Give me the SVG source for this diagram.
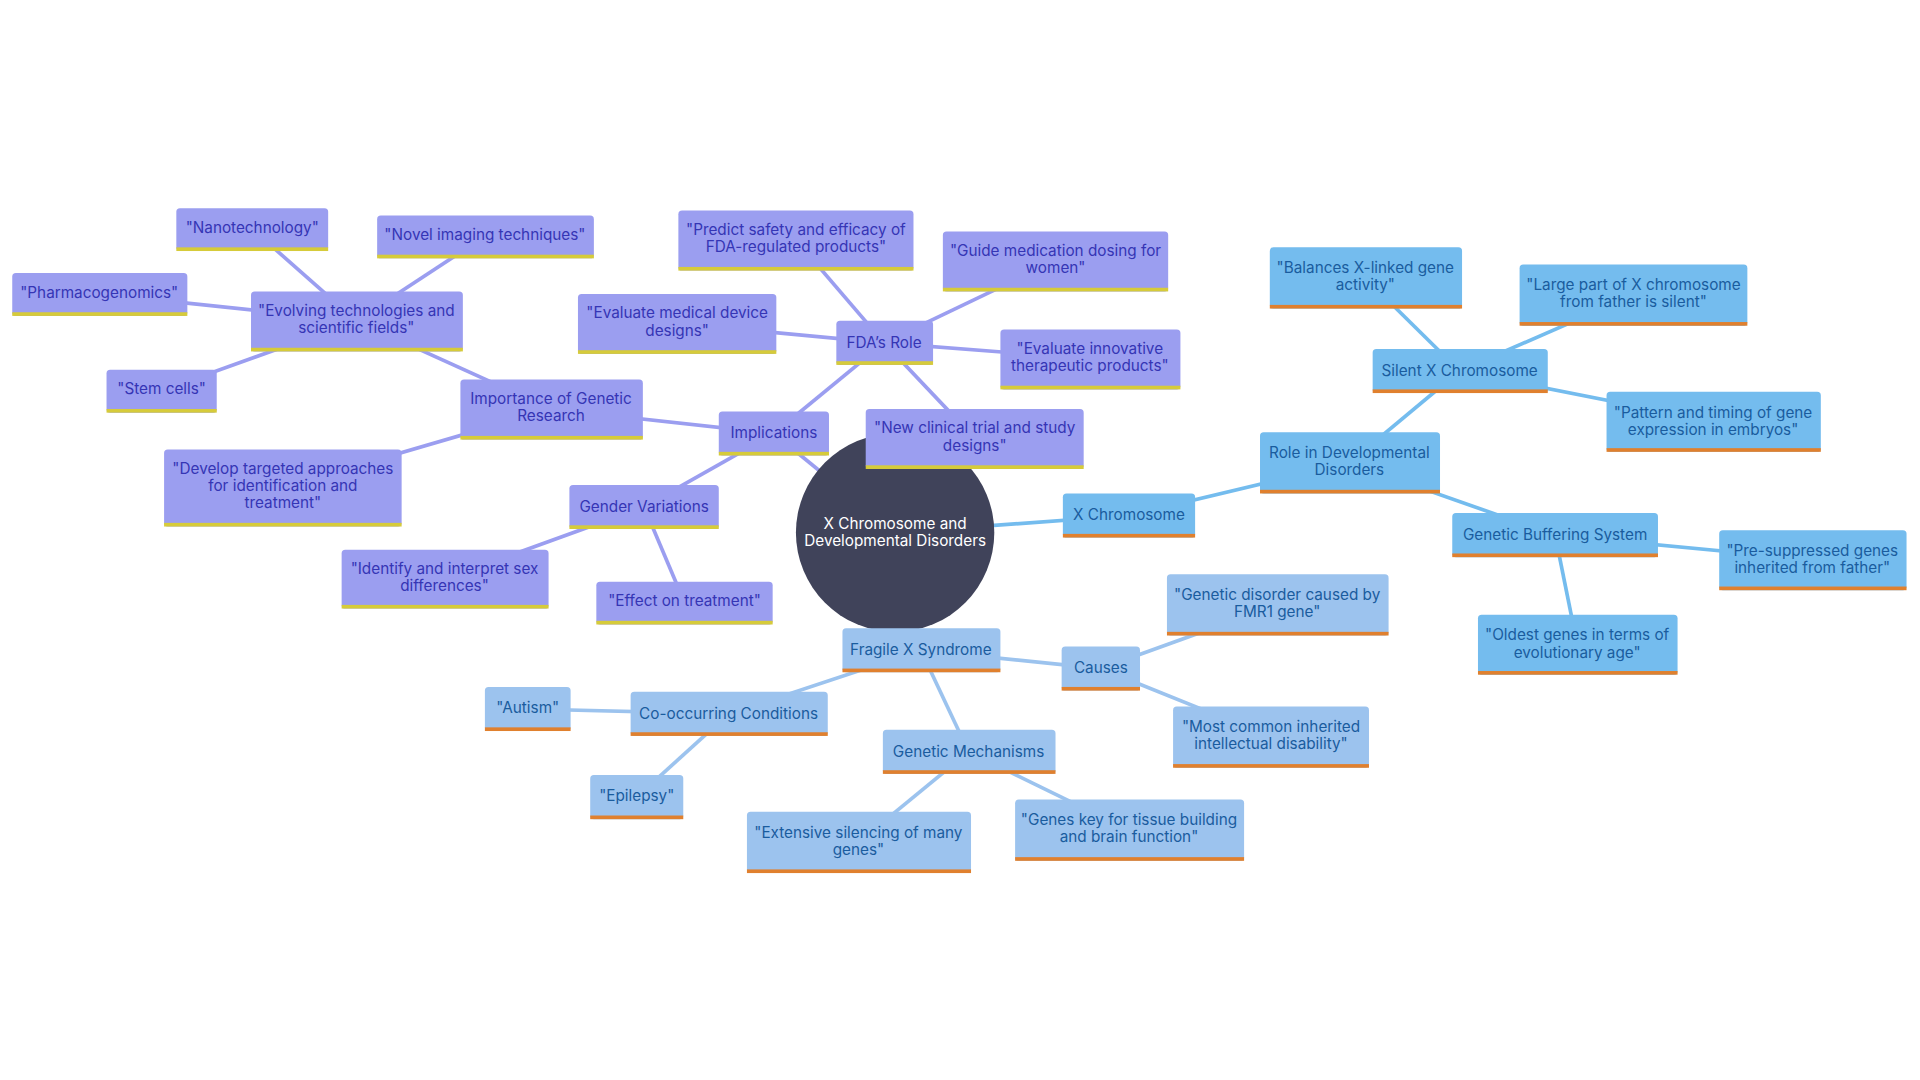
<svg xmlns="http://www.w3.org/2000/svg" width="1920" height="1080" viewBox="0 0 1920 1080">
<style>
text{font-family:Inter,"Noto Sans","Liberation Sans",sans-serif;font-size:12.5px;text-anchor:middle}
.p rect.b{fill:#9B9EF0}.p rect.u{fill:#D6CB3A}.p text{fill:#3535B5}
.r rect.b{fill:#74BCEE}.r rect.u{fill:#E0802E}.r text{fill:#1A5C9E}
.f rect.b{fill:#9CC3EE}.f rect.u{fill:#E0802E}.f text{fill:#1A5C9E}
.ep line{stroke:#9B9EF0;stroke-width:3}
.er line{stroke:#74BCEE;stroke-width:3}
.ef line{stroke:#9CC3EE;stroke-width:3}
</style>
<rect width="1920" height="1080" fill="#fff"/>
<g transform="scale(1.2245)">
<g id="connectors">
<g class="ep">
<line x1="731" y1="435" x2="632" y2="354"/>
<line x1="632" y1="354" x2="722" y2="280"/>
<line x1="722" y1="280" x2="650" y2="196"/>
<line x1="722" y1="280" x2="862" y2="213"/>
<line x1="722" y1="280" x2="553" y2="264"/>
<line x1="722" y1="280" x2="890" y2="293"/>
<line x1="722" y1="280" x2="796" y2="358"/>
<line x1="632" y1="354" x2="450" y2="334"/>
<line x1="450" y1="334" x2="291" y2="262"/>
<line x1="291" y1="262" x2="206" y2="187"/>
<line x1="291" y1="262" x2="396" y2="193"/>
<line x1="291" y1="262" x2="81" y2="240"/>
<line x1="291" y1="262" x2="132" y2="319"/>
<line x1="450" y1="334" x2="231" y2="398"/>
<line x1="632" y1="354" x2="526" y2="414"/>
<line x1="526" y1="414" x2="363" y2="473"/>
<line x1="526" y1="414" x2="559" y2="492"/>
</g>
<g class="er">
<line x1="731" y1="435" x2="922" y2="421"/>
<line x1="922" y1="421" x2="1102" y2="378"/>
<line x1="1102" y1="378" x2="1192" y2="303"/>
<line x1="1192" y1="303" x2="1115" y2="227"/>
<line x1="1192" y1="303" x2="1334" y2="241"/>
<line x1="1192" y1="303" x2="1399" y2="344"/>
<line x1="1102" y1="378" x2="1270" y2="437"/>
<line x1="1270" y1="437" x2="1480" y2="457"/>
<line x1="1270" y1="437" x2="1288" y2="526"/>
</g>
<g class="ef">
<line x1="731" y1="435" x2="752" y2="531"/>
<line x1="752" y1="531" x2="899" y2="546"/>
<line x1="899" y1="546" x2="1043" y2="494"/>
<line x1="899" y1="546" x2="1038" y2="602"/>
<line x1="752" y1="531" x2="595" y2="583"/>
<line x1="595" y1="583" x2="431" y2="579"/>
<line x1="595" y1="583" x2="520" y2="651"/>
<line x1="752" y1="531" x2="791" y2="614"/>
<line x1="791" y1="614" x2="701" y2="688"/>
<line x1="791" y1="614" x2="922" y2="678"/>
</g>
</g>
<g id="center"><circle cx="731" cy="435" r="81" fill="#40435A"/><text x="731" y="432" fill="#fff">X Chromosome and</text><text x="731" y="446" fill="#fff">Developmental Disorders</text></g>

<g id="implications" class="p"><rect class="b" x="587" y="336" width="90" height="36" rx="3"/><rect class="u" x="587" y="369" width="90" height="3"/><text x="632" y="358">Implications</text></g>
<g id="fda" class="p"><rect class="b" x="683" y="262" width="79" height="36" rx="3"/><rect class="u" x="683" y="295" width="79" height="3"/><text x="722" y="284">FDA’s Role</text></g>
<g id="predict" class="p"><rect class="b" x="554" y="172" width="192" height="49" rx="3"/><rect class="u" x="554" y="218" width="192" height="3"/><text x="650" y="192">"Predict safety and efficacy of</text><text x="650" y="206">FDA-regulated products"</text></g>
<g id="guide" class="p"><rect class="b" x="770" y="189" width="184" height="49" rx="3"/><rect class="u" x="770" y="235" width="184" height="3"/><text x="862" y="209">"Guide medication dosing for</text><text x="862" y="223">women"</text></g>
<g id="evaldev" class="p"><rect class="b" x="472" y="240" width="162" height="49" rx="3"/><rect class="u" x="472" y="286" width="162" height="3"/><text x="553" y="260">"Evaluate medical device</text><text x="553" y="274">designs"</text></g>
<g id="evalinn" class="p"><rect class="b" x="817" y="269" width="147" height="49" rx="3"/><rect class="u" x="817" y="315" width="147" height="3"/><text x="890" y="289">"Evaluate innovative</text><text x="890" y="303">therapeutic products"</text></g>
<g id="newtrial" class="p"><rect class="b" x="707" y="334" width="178" height="49" rx="3"/><rect class="u" x="707" y="380" width="178" height="3"/><text x="796" y="354">"New clinical trial and study</text><text x="796" y="368">designs"</text></g>
<g id="importance" class="p"><rect class="b" x="376" y="310" width="149" height="49" rx="3"/><rect class="u" x="376" y="356" width="149" height="3"/><text x="450" y="330">Importance of Genetic</text><text x="450" y="344">Research</text></g>
<g id="evolving" class="p"><rect class="b" x="205" y="238" width="173" height="49" rx="3"/><rect class="u" x="205" y="284" width="173" height="3"/><text x="291" y="258">"Evolving technologies and</text><text x="291" y="272">scientific fields"</text></g>
<g id="nano" class="p"><rect class="b" x="144" y="170" width="124" height="35" rx="3"/><rect class="u" x="144" y="202" width="124" height="3"/><text x="206" y="190">"Nanotechnology"</text></g>
<g id="imaging" class="p"><rect class="b" x="308" y="176" width="177" height="35" rx="3"/><rect class="u" x="308" y="208" width="177" height="3"/><text x="396" y="196">"Novel imaging techniques"</text></g>
<g id="pharma" class="p"><rect class="b" x="10" y="223" width="143" height="35" rx="3"/><rect class="u" x="10" y="255" width="143" height="3"/><text x="81" y="243">"Pharmacogenomics"</text></g>
<g id="stem" class="p"><rect class="b" x="87" y="302" width="90" height="35" rx="3"/><rect class="u" x="87" y="334" width="90" height="3"/><text x="132" y="322">"Stem cells"</text></g>
<g id="develop" class="p"><rect class="b" x="134" y="367" width="194" height="63" rx="3"/><rect class="u" x="134" y="427" width="194" height="3"/><text x="231" y="387">"Develop targeted approaches</text><text x="231" y="401">for identification and</text><text x="231" y="415">treatment"</text></g>
<g id="gender" class="p"><rect class="b" x="465" y="396" width="122" height="36" rx="3"/><rect class="u" x="465" y="429" width="122" height="3"/><text x="526" y="418">Gender Variations</text></g>
<g id="identify" class="p"><rect class="b" x="279" y="449" width="169" height="48" rx="3"/><rect class="u" x="279" y="494" width="169" height="3"/><text x="363" y="469">"Identify and interpret sex</text><text x="363" y="483">differences"</text></g>
<g id="effect" class="p"><rect class="b" x="487" y="475" width="144" height="35" rx="3"/><rect class="u" x="487" y="507" width="144" height="3"/><text x="559" y="495">"Effect on treatment"</text></g>

<g id="xchrom" class="r"><rect class="b" x="868" y="403" width="108" height="36" rx="3"/><rect class="u" x="868" y="436" width="108" height="3"/><text x="922" y="425">X Chromosome</text></g>
<g id="role" class="r"><rect class="b" x="1029" y="353" width="147" height="50" rx="3"/><rect class="u" x="1029" y="400" width="147" height="3"/><text x="1102" y="374">Role in Developmental</text><text x="1102" y="388">Disorders</text></g>
<g id="silent" class="r"><rect class="b" x="1121" y="285" width="143" height="36" rx="3"/><rect class="u" x="1121" y="318" width="143" height="3"/><text x="1192" y="307">Silent X Chromosome</text></g>
<g id="balances" class="r"><rect class="b" x="1037" y="202" width="157" height="50" rx="3"/><rect class="u" x="1037" y="249" width="157" height="3"/><text x="1115" y="223">"Balances X-linked gene</text><text x="1115" y="237">activity"</text></g>
<g id="large" class="r"><rect class="b" x="1241" y="216" width="186" height="50" rx="3"/><rect class="u" x="1241" y="263" width="186" height="3"/><text x="1334" y="237">"Large part of X chromosome</text><text x="1334" y="251">from father is silent"</text></g>
<g id="pattern" class="r"><rect class="b" x="1312" y="320" width="175" height="49" rx="3"/><rect class="u" x="1312" y="366" width="175" height="3"/><text x="1399" y="341">"Pattern and timing of gene</text><text x="1399" y="355">expression in embryos"</text></g>
<g id="buffer" class="r"><rect class="b" x="1186" y="419" width="168" height="36" rx="3"/><rect class="u" x="1186" y="452" width="168" height="3"/><text x="1270" y="441">Genetic Buffering System</text></g>
<g id="presup" class="r"><rect class="b" x="1404" y="433" width="153" height="49" rx="3"/><rect class="u" x="1404" y="479" width="153" height="3"/><text x="1480" y="454">"Pre-suppressed genes</text><text x="1480" y="468">inherited from father"</text></g>
<g id="oldest" class="r"><rect class="b" x="1207" y="502" width="163" height="49" rx="3"/><rect class="u" x="1207" y="548" width="163" height="3"/><text x="1288" y="523">"Oldest genes in terms of</text><text x="1288" y="537">evolutionary age"</text></g>

<g id="fragile" class="f"><rect class="b" x="688" y="513" width="129" height="36" rx="3"/><rect class="u" x="688" y="546" width="129" height="3"/><text x="752" y="535">Fragile X Syndrome</text></g>
<g id="causes" class="f"><rect class="b" x="867" y="528" width="64" height="36" rx="3"/><rect class="u" x="867" y="561" width="64" height="3"/><text x="899" y="550">Causes</text></g>
<g id="fmr1" class="f"><rect class="b" x="953" y="469" width="181" height="50" rx="3"/><rect class="u" x="953" y="516" width="181" height="3"/><text x="1043" y="490">"Genetic disorder caused by</text><text x="1043" y="504">FMR1 gene"</text></g>
<g id="common" class="f"><rect class="b" x="958" y="577" width="160" height="50" rx="3"/><rect class="u" x="958" y="624" width="160" height="3"/><text x="1038" y="598">"Most common inherited</text><text x="1038" y="612">intellectual disability"</text></g>
<g id="cooc" class="f"><rect class="b" x="515" y="565" width="161" height="36" rx="3"/><rect class="u" x="515" y="598" width="161" height="3"/><text x="595" y="587">Co-occurring Conditions</text></g>
<g id="autism" class="f"><rect class="b" x="396" y="561" width="70" height="36" rx="3"/><rect class="u" x="396" y="594" width="70" height="3"/><text x="431" y="582">"Autism"</text></g>
<g id="epilepsy" class="f"><rect class="b" x="482" y="633" width="76" height="36" rx="3"/><rect class="u" x="482" y="666" width="76" height="3"/><text x="520" y="654">"Epilepsy"</text></g>
<g id="mech" class="f"><rect class="b" x="721" y="596" width="141" height="36" rx="3"/><rect class="u" x="721" y="629" width="141" height="3"/><text x="791" y="618">Genetic Mechanisms</text></g>
<g id="silencing" class="f"><rect class="b" x="610" y="663" width="183" height="50" rx="3"/><rect class="u" x="610" y="710" width="183" height="3"/><text x="701" y="684">"Extensive silencing of many</text><text x="701" y="698">genes"</text></g>
<g id="genes" class="f"><rect class="b" x="829" y="653" width="187" height="50" rx="3"/><rect class="u" x="829" y="700" width="187" height="3"/><text x="922" y="674">"Genes key for tissue building</text><text x="922" y="688">and brain function"</text></g>
</g>
</svg>
